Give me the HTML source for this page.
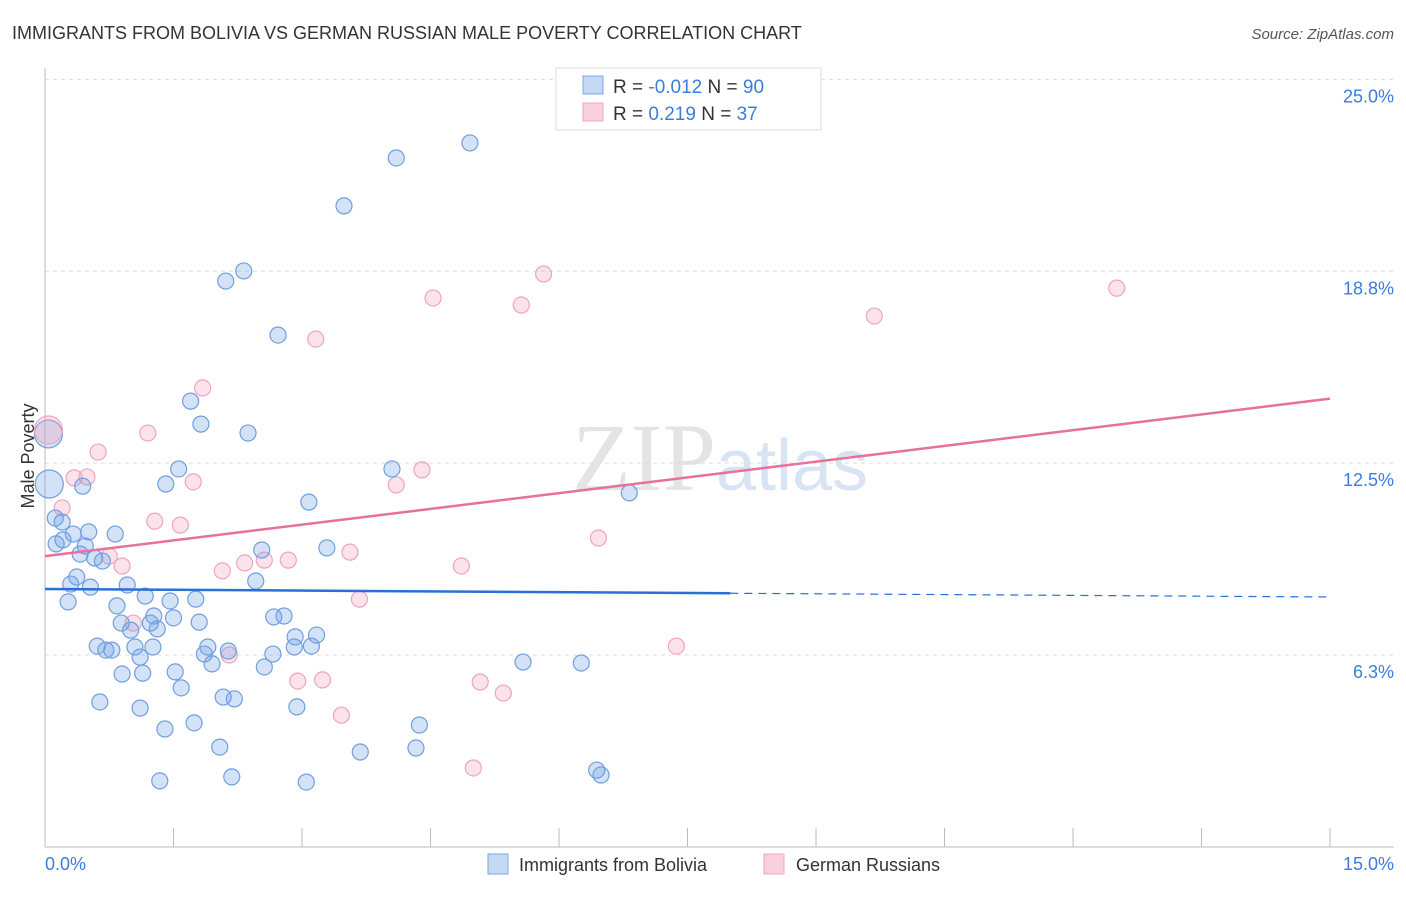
<!DOCTYPE html>
<html><head><meta charset="utf-8"><style>
body{margin:0;background:#fff;font-family:"Liberation Sans",sans-serif}
</style></head><body>
<svg id="c" width="1406" height="892" xmlns="http://www.w3.org/2000/svg" font-family="Liberation Sans, sans-serif">
<text x="12" y="39" font-size="18" fill="#333">IMMIGRANTS FROM BOLIVIA VS GERMAN RUSSIAN MALE POVERTY CORRELATION CHART</text>
<text x="1394" y="39" font-size="15" fill="#555" font-style="italic" text-anchor="end">Source: ZipAtlas.com</text>
<text x="720" y="490" font-size="96" fill="#e4e4e4" text-anchor="middle" font-family="Liberation Serif, serif">ZIP<tspan fill="#d8e4f4" font-family="Liberation Sans, sans-serif" font-size="72">atlas</tspan></text>
<g id="grid"></g>
<g id="axes"></g>
<g id="pts"></g>
<g id="trend"></g>
<text transform="translate(34,456) rotate(-90)" font-size="18" fill="#333" text-anchor="middle">Male Poverty</text>
<text x="45" y="870" font-size="18" fill="#3b7ddd">0.0%</text>
<text x="1394" y="870" font-size="18" fill="#3b7ddd" text-anchor="end">15.0%</text>
<g>
<rect x="556" y="68" width="265" height="62" fill="#fff" stroke="#ddd"/>
<rect x="583" y="76" width="20" height="18" fill="#c5d9f5" stroke="#7aa7e6"/>
<rect x="583" y="103" width="20" height="18" fill="#fbd0dd" stroke="#f0a4bc"/>
<text x="613" y="93" font-size="19" fill="#333">R = <tspan fill="#3b7ddd">-0.012</tspan>   N = <tspan fill="#3b7ddd">90</tspan></text>
<text x="613" y="120" font-size="19" fill="#333">R =   <tspan fill="#3b7ddd">0.219</tspan>   N =  <tspan fill="#3b7ddd">37</tspan></text>
</g>
<g>
<rect x="488" y="854" width="20" height="20" fill="#c5d9f5" stroke="#7aa7e6"/>
<text x="519" y="871" font-size="18" fill="#333">Immigrants from Bolivia</text>
<rect x="764" y="854" width="20" height="20" fill="#fbd0dd" stroke="#f0a4bc"/>
<text x="796" y="871" font-size="18" fill="#333">German Russians</text>
</g>
</svg>
<script>
const yTicks=[6.25,12.5,18.75,25];
const yTickLabels=["6.3%","12.5%","18.8%","25.0%"];
const blueX=[4.96,4.10,3.49,2.32,2.11,2.72,1.70,1.82,2.37,1.56,4.05,1.41,0.44,6.82,3.08,0.20,0.12,0.33,0.51,0.82,0.21,0.13,0.47,0.41,0.58,0.67,2.53,3.29,0.37,0.30,0.53,0.96,2.46,0.27,0.84,1.17,1.46,1.76,1.27,1.50,1.80,0.89,1.23,1.00,1.31,2.67,2.79,2.92,3.17,0.61,0.71,0.78,1.05,1.26,1.90,2.14,2.91,3.11,1.11,1.86,1.95,2.66,2.56,5.58,6.26,0.90,1.14,1.52,1.59,0.64,1.11,2.08,2.21,2.94,1.74,1.40,4.37,2.04,3.68,4.33,6.44,6.49,1.34,2.18,3.05];
const blueY=[22.93,22.44,20.88,18.76,18.43,16.67,14.52,13.77,13.48,12.31,12.31,11.82,11.75,11.53,11.23,10.58,10.71,10.19,10.26,10.19,10.0,9.87,9.8,9.54,9.41,9.31,9.67,9.74,8.79,8.56,8.46,8.53,8.66,7.98,7.85,8.17,8.01,8.07,7.52,7.46,7.32,7.29,7.29,7.06,7.10,7.49,7.52,6.84,6.90,6.54,6.41,6.41,6.51,6.51,6.51,6.38,6.51,6.54,6.18,6.28,5.96,6.28,5.86,6.02,5.99,5.63,5.66,5.70,5.18,4.72,4.52,4.88,4.82,4.56,4.04,3.84,3.97,3.25,3.09,3.22,2.50,2.34,2.15,2.28,2.11];
const blueBigX=[0.04,0.05];
const blueBigY=[13.45,11.82];
const pinkX=[5.82,4.53,5.56,12.51,9.68,3.16,1.84,1.20,0.62,0.34,0.49,1.73,4.10,4.40,0.20,1.28,1.58,6.46,3.56,0.75,2.33,2.56,2.84,0.90,2.07,4.86,3.67,1.03,2.15,7.37,2.95,3.24,5.08,5.35,3.46,5.00];
const pinkY=[18.66,17.88,17.65,18.2,17.29,16.54,14.95,13.48,12.86,12.02,12.05,11.89,11.79,12.28,11.04,10.61,10.48,10.06,9.6,9.47,9.25,9.34,9.34,9.15,8.99,9.15,8.07,7.29,6.25,6.54,5.40,5.44,5.37,5.01,4.29,2.57];
const pinkBigX=[0.04];
const pinkBigY=[13.58];
const blueTrend=[8.4,8.14];  // value at x=0 and x=15
const blueSolidEnd=8.0;
const pinkTrend=[9.47,14.6];
const xTicks=[0,1.5,3,4.5,6,7.5,9,10.5,12,13.5,15];

const X=v=>45+v*85.67;
const Y=v=>655-(v-6.25)*30.7;
const NS="http://www.w3.org/2000/svg";
function mk(t,a,p){const e=document.createElementNS(NS,t);for(const k in a)e.setAttribute(k,a[k]);p.appendChild(e);return e;}
const grid=document.getElementById('grid');
yTicks.forEach((t,i)=>{
 const l=mk('line',{x1:45,x2:1394,y1:Y(t),y2:Y(t),stroke:'#ddd','stroke-dasharray':'4,4'},grid);
 
 
 const tx=mk('text',{x:1394,y:Y(t)+23,'font-size':18,fill:'#3b7ddd','text-anchor':'end'},grid);
 tx.textContent=yTickLabels[i];
 
 
});
const axes=document.getElementById('axes');
const ya=mk('line',{x1:45,x2:45,y1:68,y2:847,stroke:'#bbb'},axes);


const xa=mk('line',{x1:45,x2:1394,y1:847,y2:847,stroke:'#bbb'},axes);


xTicks.forEach(t=>{
 const l=mk('line',{x1:X(t),x2:X(t),y1:828,y2:847,stroke:'#bbb'},axes);
 
 
});
const pts=document.getElementById('pts');
function dots(xs,ys,r,fill,stroke,name){
 xs.forEach((x,i)=>{
  const c=mk('circle',{cx:X(x),cy:Y(ys[i]),r:r,fill:fill,stroke:stroke,'stroke-width':1.2},pts);
  
  
 });
}
dots(pinkX,pinkY,8,'rgba(244,160,188,0.3)','#eea5be','german-russian-point');
dots(blueX,blueY,8,'rgba(110,160,230,0.3)','#6f9fe0','bolivia-point');
dots(blueBigX,blueBigY,14,'rgba(110,160,230,0.3)','#6f9fe0','bolivia-point');
dots(pinkBigX,pinkBigY,14,'rgba(244,160,188,0.3)','#eea5be','german-russian-point');
const tr=document.getElementById('trend');
const bAt=x=>blueTrend[0]+(blueTrend[1]-blueTrend[0])*x/15;
const b1=mk('line',{x1:X(0),y1:Y(bAt(0)),x2:X(blueSolidEnd),y2:Y(bAt(blueSolidEnd)),stroke:'#2a6fd6','stroke-width':2.5},tr);


const b2=mk('line',{x1:X(blueSolidEnd),y1:Y(bAt(blueSolidEnd)),x2:X(15),y2:Y(bAt(15)),stroke:'#2a6fd6','stroke-width':1.2,'stroke-dasharray':'8,6'},tr);


const p1=mk('line',{x1:X(0),y1:Y(pinkTrend[0]),x2:X(15),y2:Y(pinkTrend[1]),stroke:'#e8709a','stroke-width':2.5},tr);


</script>
</body></html>
